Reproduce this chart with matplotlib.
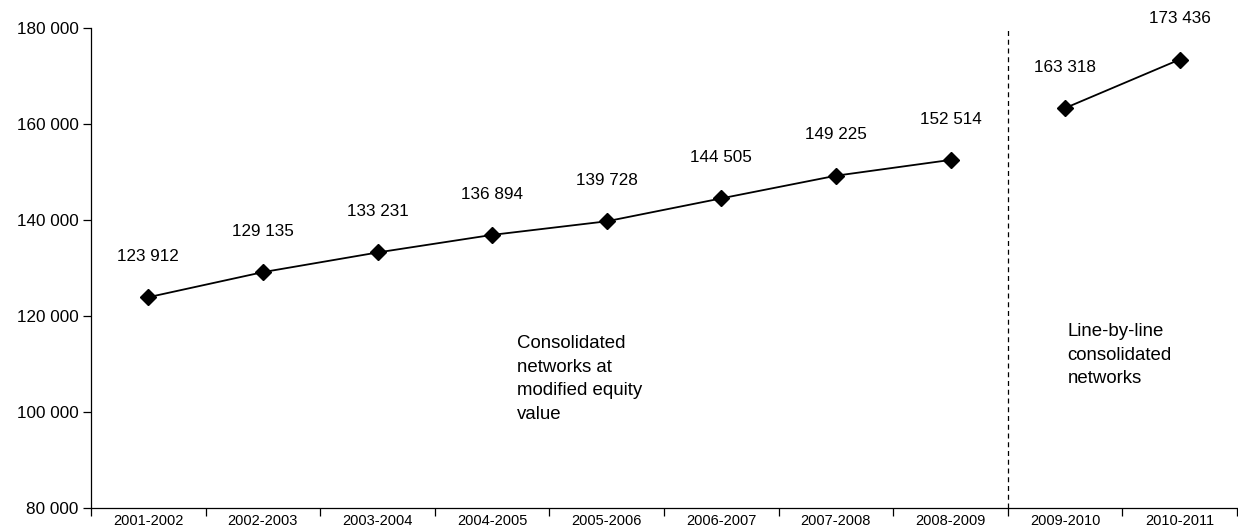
import numpy as np
import matplotlib.pyplot as plt
from matplotlib.ticker import FuncFormatter

plt.rcParams['font.family'] = ['Liberation Sans', 'DejaVu Sans']

periods = ["2001-2002", "2002-2003", "2003-2004", "2004-2005", "2005-2006",
           "2006-2007", "2007-2008", "2008-2009", "2009-2010", "2010-2011"]
equity_vals = [123912, 129135, 133231, 136894, 139728, 144505, 149225, 152514]
line_vals = [163318, 173436]

fig = plt.figure(figsize=(12.38, 5.31), dpi=100)
ax = fig.add_axes([91/1238, 23/531, 1146/1238, 480/531])

x1 = np.arange(len(equity_vals))
x2 = np.arange(len(equity_vals), len(periods))
ax.plot(x1, equity_vals, color='black', lw=1.3, marker='D', ms=8.5, mfc='black')
ax.plot(x2, line_vals, color='black', lw=1.3, marker='D', ms=8.5, mfc='black')

def sp(v):
    return f"{v:,}".replace(",", " ")

for x, v in zip(list(x1) + list(x2), equity_vals + line_vals):
    ax.annotate(sp(v), (x, v), xytext=(0, 24), textcoords='offset points',
                ha='center', va='bottom', fontsize=12.3)

ax.axvline(7.5, color='black', ls=(0, (4, 3)), lw=0.9)

ax.set_xlim(-0.5, len(periods) - 0.5)
ax.set_ylim(80000, 180000)
ax.set_yticks(np.arange(80000, 180001, 20000))
ax.yaxis.set_major_formatter(FuncFormatter(lambda v, p: sp(int(v))))
ax.set_xticks(np.arange(len(periods)))
ax.set_xticklabels(periods, fontsize=10.5)
ax.set_xticks(np.arange(-0.5, len(periods)), minor=True)
ax.tick_params(axis='x', which='major', length=0, pad=4)
ax.tick_params(axis='x', which='minor', length=6, width=0.9, direction='out')
ax.tick_params(axis='y', length=6, width=0.9, labelsize=12.3, pad=3)

for s in ['top', 'right']:
    ax.spines[s].set_visible(False)
for s in ['left', 'bottom']:
    ax.spines[s].set_linewidth(0.9)

ax.text(3.22, 116000, "Consolidated\nnetworks at\nmodified equity\nvalue",
        fontsize=13.4, va='top', ha='left', linespacing=1.5)
ax.text(8.02, 118500, "Line-by-line\nconsolidated\nnetworks",
        fontsize=13.4, va='top', ha='left', linespacing=1.5)

fig.savefig("out.png", dpi=100)
